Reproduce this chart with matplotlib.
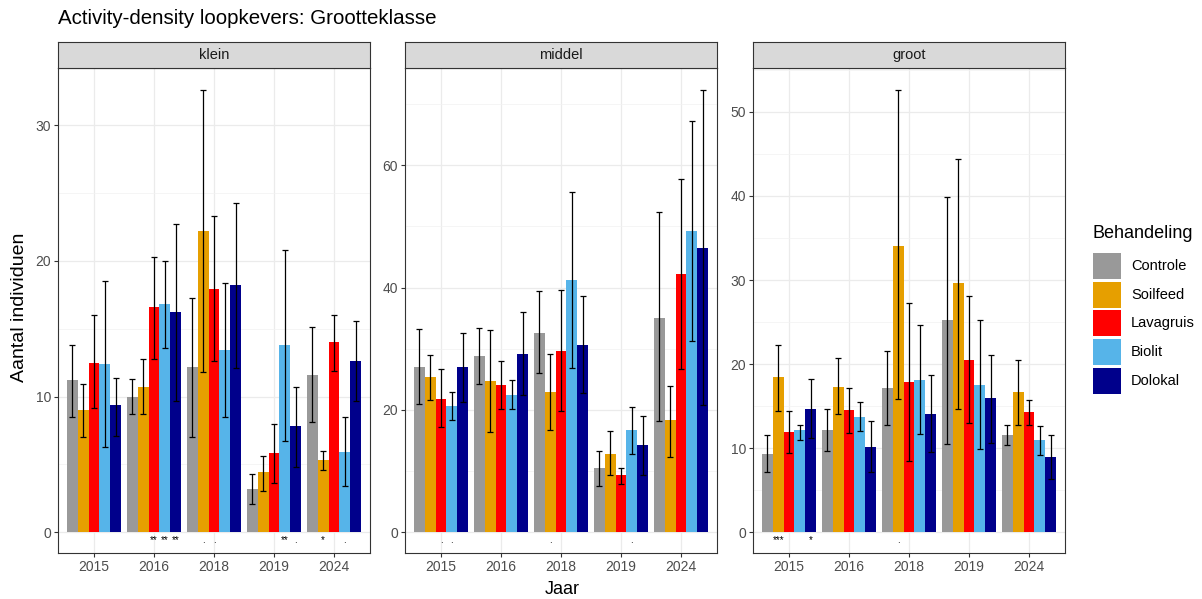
import numpy as np
import matplotlib
matplotlib.use('Agg')
import matplotlib.pyplot as plt
import matplotlib.ticker as tck
from matplotlib.patches import Rectangle

plt.rcParams['font.family'] = ['Liberation Sans', 'DejaVu Sans']

years = ['2015', '2016', '2018', '2019', '2024']
treatments = ['Controle', 'Soilfeed', 'Lavagruis', 'Biolit', 'Dolokal']
sizes = ['klein', 'middel', 'groot']
COLORS = ['#999999', '#E69F00', '#FF0000', '#56B4E9', '#00008B']

# rows = treatment, cols = year
klein_mean = [[11.2, 9.95, 12.2, 3.2, 11.6],
              [9.0, 10.7, 22.2, 4.4, 5.3],
              [12.5, 16.6, 17.9, 5.8, 14.0],
              [12.4, 16.8, 13.4, 13.8, 5.9],
              [9.4, 16.2, 18.2, 7.8, 12.6]]
klein_lo = [[8.5, 8.7, 7.0, 2.1, 8.1],
            [7.0, 8.7, 11.8, 3.0, 4.6],
            [9.15, 12.8, 12.6, 3.6, 11.9],
            [6.3, 13.6, 8.5, 6.7, 3.4],
            [7.1, 9.7, 12.1, 4.8, 9.7]]
klein_hi = [[13.8, 11.3, 17.3, 4.3, 15.1],
            [10.9, 12.8, 32.6, 5.6, 6.0],
            [16.0, 20.3, 23.3, 8.0, 16.0],
            [18.5, 20.0, 18.4, 20.8, 8.5],
            [11.4, 22.7, 24.3, 10.7, 15.6]]

middel_mean = [[27.0, 28.8, 32.6, 10.5, 35.1],
               [25.3, 24.7, 23.0, 12.8, 18.3],
               [21.7, 24.0, 29.7, 9.3, 42.2],
               [20.7, 22.5, 41.3, 16.7, 49.3],
               [27.0, 29.2, 30.6, 14.2, 46.4]]
middel_lo = [[20.9, 24.3, 26.0, 7.5, 18.1],
             [21.6, 16.3, 16.7, 9.3, 12.3],
             [17.2, 20.1, 19.8, 7.8, 26.7],
             [18.3, 20.1, 26.9, 12.7, 31.3],
             [21.3, 22.4, 22.7, 9.3, 20.8]]
middel_hi = [[33.3, 33.4, 39.5, 13.3, 52.3],
             [28.9, 33.1, 29.2, 16.5, 23.9],
             [26.7, 28.0, 39.6, 10.5, 57.8],
             [23.0, 24.8, 55.6, 20.5, 67.2],
             [32.6, 36.0, 38.7, 19.0, 72.3]]

groot_mean = [[9.3, 12.2, 17.1, 25.2, 11.6],
              [18.4, 17.3, 34.1, 29.6, 16.7],
              [11.9, 14.5, 17.9, 20.5, 14.3],
              [12.1, 13.7, 18.1, 17.5, 11.0],
              [14.7, 10.1, 14.1, 16.0, 8.9]]
groot_lo = [[7.1, 9.6, 12.7, 10.5, 10.4],
            [14.4, 14.0, 15.8, 14.7, 12.7],
            [9.4, 11.8, 8.5, 13.0, 12.8],
            [11.0, 12.0, 11.7, 9.9, 9.2],
            [11.2, 7.1, 9.5, 10.6, 6.3]]
groot_hi = [[11.5, 14.7, 21.6, 39.9, 12.8],
            [22.3, 20.7, 52.6, 44.4, 20.5],
            [14.4, 17.2, 27.3, 28.1, 15.7],
            [12.8, 15.5, 24.6, 25.2, 12.6],
            [18.2, 13.2, 18.7, 21.1, 11.5]]

# significance labels: (year index, treatment index, label)
klein_sig = [(1, 2, '**'), (1, 3, '**'), (1, 4, '**'), (2, 1, '.'), (2, 2, '.'),
             (3, 3, '**'), (3, 4, '.'), (4, 1, '*'), (4, 3, '.')]
middel_sig = [(0, 2, '.'), (0, 3, '.'), (2, 1, '.'), (3, 3, '.')]
groot_sig = [(0, 1, '***'), (0, 4, '*'), (2, 1, '.')]

panels = [(klein_mean, klein_lo, klein_hi, klein_sig, 10),
          (middel_mean, middel_lo, middel_hi, middel_sig, 20),
          (groot_mean, groot_lo, groot_hi, groot_sig, 10)]

W, H = 1202, 599
fig = plt.figure(figsize=(W / 100, H / 100), dpi=100)


def px(x0, y0, x1, y1):
    return [x0 / W, 1 - y1 / H, (x1 - x0) / W, (y1 - y0) / H]


lefts = [58, 405, 753]
pw = 312
ptop, pbot, stop = 68, 553, 42
TXT = '#4D4D4D'
bw = 0.9 / len(treatments)
x = np.arange(len(years))

for k, (mean, lo, hi, sig, step) in enumerate(panels):
    l = lefts[k]
    ax = fig.add_axes(px(l, ptop, l + pw, pbot))
    mean, lo, hi = np.array(mean), np.array(lo), np.array(hi)
    for i, t in enumerate(treatments):
        xs = x - 0.45 + bw * (i + 0.5)
        ax.bar(xs, mean[i], width=bw, color=COLORS[i], zorder=2)
        ax.errorbar(xs, mean[i], yerr=[mean[i] - lo[i], hi[i] - mean[i]],
                    fmt='none', ecolor='black', elinewidth=0.9, capsize=2.2,
                    capthick=0.9, zorder=3)
    for yi, ti, lab in sig:
        xs = x[yi] - 0.45 + bw * (ti + 0.5)
        ax.annotate(lab, (xs, 0), xytext=(0, -2), textcoords='offset points',
                    ha='center', va='top', fontsize=7, color='black')
    top = hi.max() * 1.05
    ax.set_ylim(-0.045 * top, top)
    ax.set_xlim(-0.6, len(years) - 0.4)
    ax.set_xticks(x)
    ax.set_xticklabels(years)
    ax.xaxis.set_minor_locator(tck.NullLocator())
    ax.yaxis.set_major_locator(tck.MultipleLocator(step))
    ax.yaxis.set_minor_locator(tck.MultipleLocator(step / 2))
    ax.grid(which='major', color='#EBEBEB', linewidth=0.9, zorder=0)
    ax.grid(which='minor', axis='y', color='#F2F2F2', linewidth=0.5, zorder=0)
    ax.set_axisbelow(True)
    ax.tick_params(which='major', length=3, color='#333333', labelsize=10,
                   labelcolor=TXT, pad=2)
    ax.tick_params(which='minor', length=0)
    for s in ax.spines.values():
        s.set_color('#333333')
        s.set_linewidth(0.8)

    sax = fig.add_axes(px(l, stop, l + pw, ptop))
    sax.set_facecolor('#D9D9D9')
    sax.set_xticks([])
    sax.set_yticks([])
    for s in sax.spines.values():
        s.set_color('#333333')
        s.set_linewidth(0.8)
    sax.text(0.5, 0.5, sizes[k], ha='center', va='center', fontsize=10.5,
             color='#1A1A1A', transform=sax.transAxes)

fig.text(58 / W, 1 - 18 / H, 'Activity-density loopkevers: Grootteklasse',
         fontsize=14.8, ha='left', va='center')
fig.text(562 / W, 1 - 589 / H, 'Jaar',
         fontsize=13, ha='center', va='center')
fig.text(20 / W, 1 - 307 / H, 'Aantal individuen', fontsize=14,
         rotation=90, ha='center', va='center')

# legend drawn by hand in pixel units
fig.text(1092 / W, 1 - 234 / H, 'Behandeling', fontsize=13,
         ha='left', va='center')
for i, t in enumerate(treatments):
    yc = 266 + 28.7 * i
    fig.patches.append(Rectangle((1093 / W, 1 - (yc + 13) / H), 28 / W, 26 / H,
                                 transform=fig.transFigure, facecolor=COLORS[i],
                                 edgecolor='none'))
    fig.text(1131 / W, 1 - yc / H, t, fontsize=10.5, ha='left', va='center')

fig.savefig('out.png', dpi=100)
